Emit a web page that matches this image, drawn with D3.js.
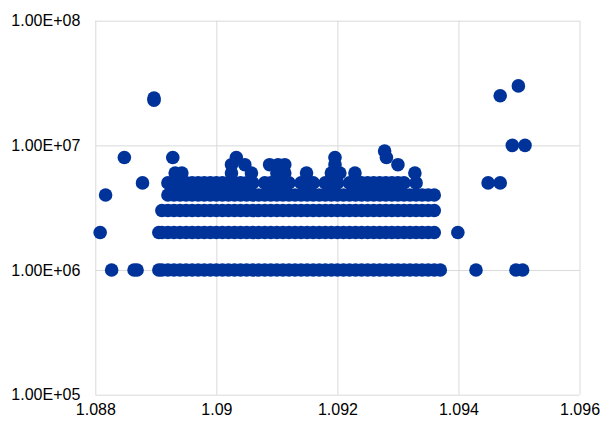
<!DOCTYPE html>
<html>
<head>
<meta charset="utf-8">
<script src="https://cdn.jsdelivr.net/npm/d3@7"></script>
<style>
  body { margin: 0; background: #fff; }
  text { font-family: "Liberation Sans", Arial, sans-serif; }
</style>
</head>
<body>
<svg id="chart" width="601" height="421"></svg>
<script>
// axis ticks
var xTicks = [1.088, 1.090, 1.092, 1.094, 1.096];
var yTicks = [1e5, 1e6, 1e7, 1e8];

// x values of the dots, grouped by their y value
var x_1e6 = [1.08827, 1.08864, 1.08869,
  1.08905, 1.0891, 1.0892, 1.0893, 1.0894, 1.0895, 1.0896, 1.0897, 1.0898, 1.0899,
  1.0900, 1.0901, 1.0902, 1.0903, 1.0904, 1.0905, 1.0906, 1.0907, 1.0908, 1.0909,
  1.0910, 1.0911, 1.0912, 1.0913, 1.0914, 1.0915, 1.0916, 1.0917, 1.0918, 1.0919,
  1.0920, 1.0921, 1.0922, 1.0923, 1.0924, 1.0925, 1.0926, 1.0927, 1.0928, 1.0929,
  1.0930, 1.0931, 1.0932, 1.0933, 1.0934, 1.0935, 1.0936, 1.0937,
  1.09429, 1.09495, 1.09506];
var x_2e6 = [1.08808,
  1.08905, 1.0891, 1.0892, 1.0893, 1.0894, 1.0895, 1.0896, 1.0897, 1.0898, 1.0899,
  1.0900, 1.0901, 1.0902, 1.0903, 1.0904, 1.0905, 1.0906, 1.0907, 1.0908, 1.0909,
  1.0910, 1.0911, 1.0912, 1.0913, 1.0914, 1.0915, 1.0916, 1.0917, 1.0918, 1.0919,
  1.0920, 1.0921, 1.0922, 1.0923, 1.0924, 1.0925, 1.0926, 1.0927, 1.0928, 1.0929,
  1.0930, 1.0931, 1.0932, 1.0933, 1.0934, 1.0935, 1.0936,
  1.09399];
var x_3e6 = [
  1.0891, 1.0892, 1.0893, 1.0894, 1.0895, 1.0896, 1.0897, 1.0898, 1.0899,
  1.0900, 1.0901, 1.0902, 1.0903, 1.0904, 1.0905, 1.0906, 1.0907, 1.0908, 1.0909,
  1.0910, 1.0911, 1.0912, 1.0913, 1.0914, 1.0915, 1.0916, 1.0917, 1.0918, 1.0919,
  1.0920, 1.0921, 1.0922, 1.0923, 1.0924, 1.0925, 1.0926, 1.0927, 1.0928, 1.0929,
  1.0930, 1.0931, 1.0932, 1.0933, 1.0934, 1.0935, 1.0936];
var x_4e6 = [1.08817,
  1.0892, 1.0893, 1.0894, 1.0895, 1.0896, 1.0897, 1.0898, 1.0899,
  1.0900, 1.0901, 1.0902, 1.0903, 1.0904, 1.0905, 1.0906, 1.0907, 1.0908, 1.0909,
  1.0910, 1.0911, 1.0912, 1.0913, 1.0914, 1.0915, 1.0916, 1.0917, 1.0918, 1.0919,
  1.0920, 1.0921, 1.0922, 1.0923, 1.0924, 1.0925, 1.0926, 1.0927, 1.0928, 1.0929,
  1.0930, 1.0931, 1.0932, 1.0933, 1.0934, 1.0935, 1.0936];
var x_5e6 = [1.08878,
  1.0892, 1.0893, 1.0894, 1.0895, 1.0896, 1.0897, 1.0898, 1.0899,
  1.0900, 1.0901, 1.0902, 1.0903, 1.0904, 1.0905, 1.0906, 1.0908, 1.0909,
  1.0910, 1.0911, 1.0912, 1.0914, 1.0915, 1.0916, 1.0918, 1.0919,
  1.0920, 1.0922, 1.0923, 1.0924, 1.0925, 1.0926, 1.0927, 1.0928, 1.0929,
  1.0930, 1.0931, 1.0933,
  1.09449, 1.09469];
var x_6e6 = [1.08932, 1.08943, 1.09025, 1.09058, 1.09100, 1.09113, 1.09149,
  1.09190, 1.09204, 1.09229, 1.09328];
var x_7e6 = [1.09025, 1.09047, 1.09088, 1.09102, 1.09113, 1.09196, 1.09300];
var x_8e6 = [1.08848, 1.08928, 1.09033, 1.09196, 1.09281];
var x_9e6 = [1.09278];
var x_1e7 = [1.09489, 1.09510];
var x_23e6 = [1.08897];
var x_24e6 = [1.08897];
var x_25e6 = [1.09469];
var x_30e6 = [1.09499];

var yValues = [1e6, 2e6, 3e6, 4e6, 5e6, 6e6, 7e6, 8e6, 9e6, 1e7, 2.3e7, 2.4e7, 2.5e7, 3e7];
var xLists  = [x_1e6, x_2e6, x_3e6, x_4e6, x_5e6, x_6e6, x_7e6, x_8e6, x_9e6, x_1e7, x_23e6, x_24e6, x_25e6, x_30e6];

// flatten into points
var points = [];
yValues.forEach(function(yv, i) {
  xLists[i].forEach(function(xv) { points.push({x: xv, y: yv}); });
});

// plot area edges
var plotLeft = 95.3, plotRight = 579.5, plotTop = 20.7, plotBottom = 394.7;

var x = d3.scaleLinear().domain([1.088, 1.096]).range([plotLeft, plotRight]);
var y = d3.scaleLog().domain([1e5, 1e8]).range([plotBottom, plotTop]);

var svg = d3.select("#chart");

// 1.00E+08 style labels
function fmtE(v) {
  var parts = d3.format(".2e")(v).split("e");
  var sign = parts[1][0];
  var exp = parts[1].slice(1);
  if (exp.length < 2) exp = "0" + exp;
  return parts[0] + "E" + sign + exp;
}

svg.append("g")
  .attr("transform", "translate(" + plotLeft + ",0)")
  .call(d3.axisLeft(y)
    .tickValues(yTicks)
    .tickSize(-(plotRight - plotLeft))
    .tickPadding(15)
    .tickFormat(fmtE));

svg.append("g")
  .attr("transform", "translate(0," + plotBottom + ")")
  .call(d3.axisBottom(x)
    .tickValues(xTicks)
    .tickSize(-(plotBottom - plotTop))
    .tickPadding(9)
    .tickFormat(function(d) { return String(+d.toFixed(3)); }));

svg.selectAll(".domain").remove();
svg.selectAll(".tick line")
  .attr("stroke", "#d9d9d9")
  .attr("stroke-width", 1);
svg.selectAll(".tick text")
  .attr("fill", "#000")
  .style("font-size", "16px")
  .style("font-family", "'Liberation Sans', Arial, sans-serif");

// the dots
svg.append("g")
  .selectAll("circle")
  .data(points)
  .enter()
  .append("circle")
  .attr("cx", function(d) { return x(d.x); })
  .attr("cy", function(d) { return y(d.y); })
  .attr("r", 6.8)
  .attr("fill", "#003399");
</script>
</body>
</html>
